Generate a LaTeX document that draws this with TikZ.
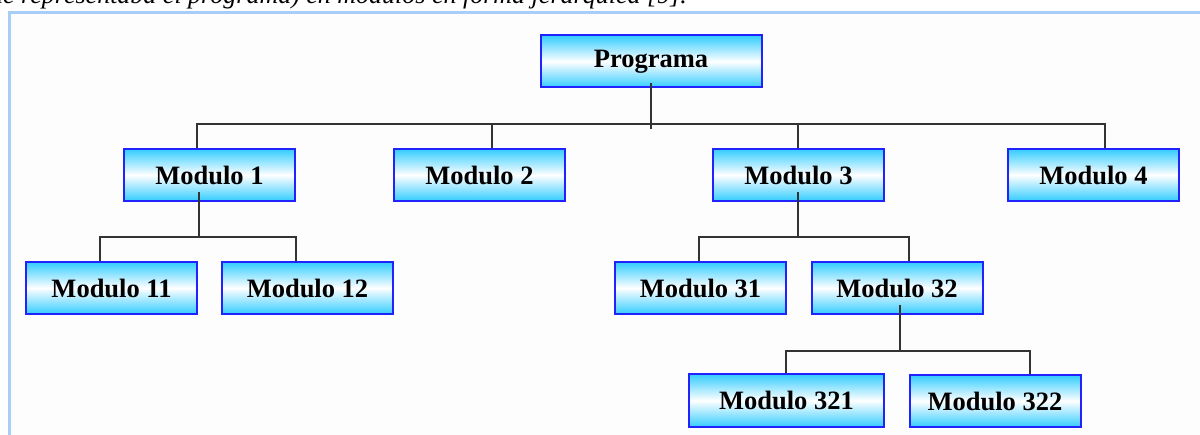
\documentclass[tikz,border=0pt]{standalone}
\usepackage{fontspec}
\setmainfont{Liberation Serif}
\usepackage{xcolor}
\definecolor{BoxCyan}{HTML}{33CCFF}
\definecolor{BoxEdge}{HTML}{2222FF}
\definecolor{FrameBlue}{HTML}{A8CEF7}
\definecolor{PageTint}{HTML}{FDFDFD}
\definecolor{LinkGray}{HTML}{333333}
\usetikzlibrary{calc}

\begin{document}
\begin{tikzpicture}[x=1pt, y=1pt,
  modbox/.style={rectangle, draw=BoxEdge, line width=2pt,
                 top color=BoxCyan, bottom color=BoxCyan, middle color=white,
                 minimum width=171pt, minimum height=52pt, inner sep=0pt,
                 font=\fontsize{26.5}{29}\selectfont\bfseries},
  link/.style={draw=LinkGray, line width=2pt}
]
\useasboundingbox (0,0) rectangle (1200,-435);

%% ---- Page strip: caption line cut at the top, framed panel ----
\node[anchor=base east, inner sep=0pt, font=\fontsize{26}{30}\selectfont\itshape]
  (caption) at (687,-3.5) {que representaba el programa) en módulos en forma jerárquica [9].};
\fill[PageTint] (9,-12.5) rectangle (1210,-440);
\draw[FrameBlue, line width=3pt] (1210,-12.5) -- (9,-12.5) -- (9,-440);

%% ---- Level 0 and level 1 (y = -61.5 / -175) ----
\node[modbox, minimum width=221pt] (prog) at (651,-61.5) {Programa};
\node[modbox] (m1) at ( 209.5,-175) {Modulo 1};
\node[modbox] (m2) at ( 479.5,-175) {Modulo 2};
\node[modbox] (m3) at ( 798.5,-175) {Modulo 3};
\node[modbox] (m4) at (1093.5,-175) {Modulo 4};

%% ---- Level 2 (y = -288) ----
\node[modbox] (m11) at (111.5,-288) {Modulo 11};
\node[modbox] (m12) at (307.5,-288) {Modulo 12};
\node[modbox] (m31) at (700.5,-288) {Modulo 31};
\node[modbox] (m32) at (897.0,-288) {Modulo 32};

%% ---- Level 3 (y = -401) ----
\node[modbox, minimum width=195pt, minimum height=53pt] (m321) at (786.5,-400.5) {Modulo 321};
\node[modbox] (m322) at (995,-401) {Modulo 322};

%% ---- Programa -> modules ----
\coordinate (bus0) at (651,-124);
\draw[link] ([yshift=5pt]prog.south) -- ([yshift=-5pt]bus0);
\draw[link] ([xshift=-12.5pt]m1.north) |- ([xshift=11.5pt]m4.north |- bus0) -- ([xshift=11.5pt]m4.north);
\draw[link] ([xshift=12.5pt]m2.north) -- ([xshift=12.5pt]m2.north |- bus0);
\draw[link] ([xshift=-0.5pt]m3.north) -- ([xshift=-0.5pt]m3.north |- bus0);

%% ---- Modulo 1 -> 11, 12 ----
\coordinate (bus1) at (199,-237);
\draw[link] ([xshift=-10.5pt,yshift=10pt]m1.south) -- (bus1);
\draw[link] ([xshift=-11.5pt]m11.north) |- ([xshift=-11.5pt]m12.north |- bus1) -- ([xshift=-11.5pt]m12.north);

%% ---- Modulo 3 -> 31, 32 ----
\coordinate (bus3) at (798,-237);
\draw[link] ([xshift=-0.5pt,yshift=10pt]m3.south) -- (bus3);
\draw[link] ([xshift=-1.5pt]m31.north) |- ([xshift=12pt]m32.north |- bus3) -- ([xshift=12pt]m32.north);

%% ---- Modulo 32 -> 321, 322 ----
\coordinate (bus32) at (900,-351);
\draw[link] ([xshift=3pt,yshift=10pt]m32.south) -- (bus32);
\draw[link] ([xshift=-0.5pt]m321.north) |- ([xshift=35pt]m322.north |- bus32) -- ([xshift=35pt]m322.north);

\end{tikzpicture}
\end{document}
